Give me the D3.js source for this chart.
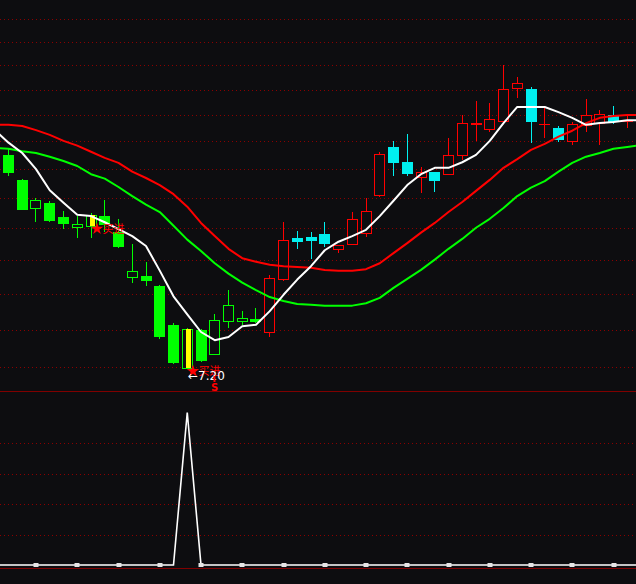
<!DOCTYPE html>
<html><head><meta charset="utf-8">
<script src="https://cdn.jsdelivr.net/npm/d3@7"></script>
<style>html,body{margin:0;padding:0;background:#0d0d10;overflow:hidden}</style>
</head><body><svg id="c" width="636" height="584"></svg>
<script>
// ---- data (bar index k = -1 .. 45; moving averages run to k = 46) ----
const firstBar = -1;
const open  = [10.53,10.15,9.75,9.32,9.40,9.19,9.04,9.06,9.20,8.97,8.35,8.36,8.23,7.73,7.21,7.67,7.38,7.78,7.78,7.80,7.64,8.32,8.88,8.90,8.94,8.73,8.80,8.96,9.52,10.28,10.03,9.80,9.88,9.84,10.15,10.67,10.58,10.72,11.30,11.28,10.66,10.60,10.38,10.65,10.68,10.82,10.71];
const high  = [10.56,10.26,9.77,9.47,9.43,9.28,9.20,9.25,9.44,9.16,8.80,8.55,8.24,7.75,7.69,7.68,7.86,8.17,7.90,7.94,8.37,9.11,8.98,8.97,9.11,8.79,9.26,9.47,10.20,10.38,10.50,9.96,9.88,10.43,10.82,11.07,11.03,11.72,11.50,11.32,10.96,10.63,10.70,11.10,10.91,10.98,10.82];
const low   = [10.23,9.81,9.29,9.11,9.11,9.01,8.88,8.88,8.97,8.74,8.27,8.23,7.56,7.26,7.20,7.28,7.36,7.69,7.73,7.75,7.58,8.29,8.73,8.59,8.76,8.67,8.78,8.90,9.49,9.81,9.81,9.55,9.56,9.83,10.07,10.38,10.53,10.70,11.12,10.35,10.43,10.36,10.31,10.53,10.31,10.67,10.60];
const close = [10.28,9.86,9.29,9.44,9.13,9.09,9.09,9.22,9.07,8.76,8.43,8.29,7.58,7.27,7.68,7.29,7.79,7.98,7.81,7.76,8.33,8.86,8.83,8.84,8.80,8.79,9.16,9.28,10.17,10.02,9.84,9.88,9.73,10.15,10.68,10.68,10.75,11.28,11.39,10.70,10.67,10.40,10.67,10.82,10.84,10.70,10.72];
// colour regime of each bar: d = falling phase (green), u = rising phase (red / cyan)
const trend = "ddddddddddddddddddddu".split("").concat("uuuuuuuuuuuuuuuuuuuuuuuuuu".split(""));
const ma5  = [10.56,10.35,10.18,9.92,9.59,9.40,9.22,9.20,9.11,9.01,8.91,8.77,8.43,8.09,7.86,7.64,7.54,7.58,7.71,7.73,7.90,8.11,8.31,8.49,8.71,8.83,8.91,9.00,9.20,9.43,9.67,9.84,9.94,9.94,10.03,10.15,10.38,10.68,10.96,10.96,10.96,10.87,10.77,10.65,10.68,10.70,10.73,10.73];
const ma10 = [10.65,10.65,10.63,10.56,10.48,10.38,10.30,10.20,10.10,10.02,9.88,9.78,9.67,9.53,9.34,9.10,8.91,8.73,8.60,8.55,8.51,8.49,8.48,8.47,8.44,8.43,8.43,8.45,8.53,8.67,8.81,8.96,9.10,9.26,9.41,9.58,9.75,9.94,10.08,10.23,10.33,10.45,10.55,10.68,10.77,10.80,10.82,10.82];
const ma20 = [10.26,10.25,10.21,10.18,10.12,10.05,9.97,9.84,9.77,9.64,9.50,9.37,9.26,9.06,8.86,8.70,8.53,8.39,8.27,8.17,8.08,8.03,7.99,7.98,7.97,7.97,7.97,8.00,8.07,8.20,8.32,8.44,8.58,8.73,8.87,9.03,9.16,9.32,9.50,9.63,9.73,9.88,10.02,10.12,10.18,10.25,10.28,10.31];
const gridPrices = [7.22,7.67,8.12,8.57,9.02,9.47,9.92,10.37,10.82,11.27,11.72,12.17,12.62];
const buyBars = [6,13];
const buyText = "买进";
const lowBar = 13, lowText = "\u2190" + "7.20";
const sellBar = 15, sellText = "S";
// lower indicator
const signal = [0,0,0,0,0,0,0,0,0,0,0,0,0,0,100,0,0,0,0,0,0,0,0,0,0,0,0,0,0,0,0,0,0,0,0,0,0,0,0,0,0,0,0,0,0,0,0,0];
const signalGrid = [20,40,60,80];
const markerBars = [2,5,8,11,14,17,20,23,26,29,32,35,38,41,44];

// ---- drawing ----
const W = 636, H = 584, BG = "#0d0d10";
const GREEN = "#00ff00", RED = "#ff0000", CYAN = "#00f0f0", GRID = "#8b0000";
const svg = d3.select("#c");
svg.append("rect").attr("width", W).attr("height", H).attr("fill", BG);

const x = d3.scaleLinear().domain([-1, 46]).range([-5.25, 641]);
const y = d3.scaleLog().domain([7.2, 13.01]).range([369, 0]);
const ys = d3.scaleLinear().domain([0, 100]).range([565, 412.5]);
const cxOf = k => Math.floor(x(k)) + 0.5;
const py = v => Math.round(y(v));

// grid lines
const g = svg.append("g");
g.selectAll("line.mg").data(gridPrices).join("line")
  .attr("x1", 0).attr("x2", W)
  .attr("y1", d => py(d) + 0.5).attr("y2", d => py(d) + 0.5)
  .attr("stroke", GRID).attr("stroke-dasharray", "1,3");
g.selectAll("line.sg").data(signalGrid).join("line")
  .attr("x1", 0).attr("x2", W)
  .attr("y1", d => Math.round(ys(d)) + 0.5).attr("y2", d => Math.round(ys(d)) + 0.5)
  .attr("stroke", GRID).attr("stroke-dasharray", "1,3");
[391.5, 568.5].forEach(v => svg.append("line").attr("x1", 0).attr("x2", W)
  .attr("y1", v).attr("y2", v).attr("stroke", "#800000").attr("stroke-width", 1));

// candles
const bars = open.map((o, i) => ({k: firstBar + i, o, h: high[i], l: low[i], c: close[i], t: trend[i]}));
const cg = svg.append("g").attr("shape-rendering", "crispEdges");
bars.forEach(b => {
  const cx = cxOf(b.k);
  const up = b.c >= b.o;
  const col = b.t === "d" ? GREEN : (up ? RED : CYAN);
  const top = Math.round(Math.min(y(b.o), y(b.c)));
  const bot = Math.round(Math.max(y(b.o), y(b.c)));
  const yh = py(b.h), yl = py(b.l);
  if (!up) {
    cg.append("line").attr("x1", cx).attr("x2", cx).attr("y1", yh).attr("y2", yl).attr("stroke", col);
    cg.append("rect").attr("x", cx - 5.5).attr("y", top).attr("width", 11)
      .attr("height", Math.max(1, bot - top)).attr("fill", col);
  } else if (bot - top < 1) {
    cg.append("line").attr("x1", cx).attr("x2", cx).attr("y1", yh).attr("y2", yl).attr("stroke", col);
    cg.append("line").attr("x1", cx - 5.5).attr("x2", cx + 5.5).attr("y1", top + 0.5).attr("y2", top + 0.5).attr("stroke", col);
  } else {
    cg.append("line").attr("x1", cx).attr("x2", cx).attr("y1", yh).attr("y2", top).attr("stroke", col);
    cg.append("line").attr("x1", cx).attr("x2", cx).attr("y1", bot).attr("y2", yl).attr("stroke", col);
    cg.append("rect").attr("x", cx - 5).attr("y", top + 0.5).attr("width", 10)
      .attr("height", bot - top).attr("fill", BG).attr("stroke", col);
  }
});

// yellow signal bars
buyBars.forEach(k => {
  const b = bars[k - firstBar];
  const cx = cxOf(k);
  const top = Math.round(Math.min(y(b.o), y(b.c))), bot = Math.round(Math.max(y(b.o), y(b.c)));
  cg.append("rect").attr("x", cx - 1.5).attr("y", top).attr("width", 5).attr("height", bot - top).attr("fill", "#ffff00");
});

// moving averages
const line = d3.line().x((d, i) => x(firstBar + i)).y(d => y(d));
[[ma20, GREEN], [ma10, RED], [ma5, "#ffffff"]].forEach(([arr, col]) => {
  svg.append("path").datum(arr).attr("d", line).attr("fill", "none")
    .attr("stroke", col).attr("stroke-width", 2).attr("stroke-linejoin", "round");
});

// buy marks
buyBars.forEach(k => {
  const b = bars[k - firstBar];
  const cx = cxOf(k), sy = y(b.o) + 3;
  svg.append("path").attr("d", d3.symbol(d3.symbolStar).size(48)())
    .attr("transform", `translate(${cx + 5.5},${sy})`).attr("fill", RED);
  svg.append("text").attr("x", cx + 11).attr("y", sy).attr("dy", "0.36em")
    .attr("fill", RED).attr("font-family", "'Noto Sans CJK SC', sans-serif").attr("font-size", 11)
    .text(buyText);
});
// low price label
svg.append("text").attr("x", cxOf(lowBar) + 0.5).attr("y", py(low[lowBar - firstBar]) + 11)
  .attr("fill", "#ffffff").attr("font-family", "'DejaVu Sans', sans-serif").attr("font-size", 12)
  .text(lowText);
// sell mark
const sx = cxOf(sellBar);
svg.append("line").attr("x1", sx).attr("x2", sx).attr("y1", 376).attr("y2", 382)
  .attr("stroke", RED).attr("stroke-width", 2);
svg.append("text").attr("x", sx).attr("y", 390.5).attr("text-anchor", "middle")
  .attr("fill", RED).attr("font-family", "'DejaVu Sans', sans-serif").attr("font-weight", "bold").attr("font-size", 10)
  .text(sellText);

// lower indicator
const sline = d3.line().x((d, i) => x(firstBar + i)).y(d => ys(d));
svg.append("path").datum(signal).attr("d", sline).attr("fill", "none")
  .attr("stroke", "#ffffff").attr("stroke-width", 1.6);
svg.selectAll("rect.mk").data(markerBars).join("rect")
  .attr("x", d => Math.round(x(d)) - 2.5).attr("y", 563).attr("width", 5).attr("height", 4)
  .attr("fill", "#e6e6e6");
</script></body></html>
